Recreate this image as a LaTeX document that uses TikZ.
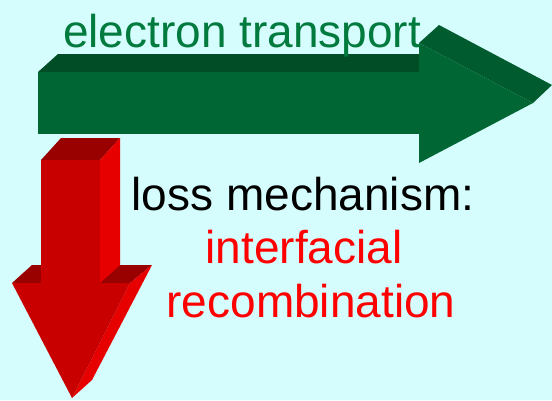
\documentclass[tikz,border=0pt]{standalone}
\usepackage{fontspec}
\setmainfont{Liberation Sans}
\definecolor{bgcyan}{RGB}{214,253,253}
\definecolor{gfront}{RGB}{0,102,51}
\definecolor{gtop}{RGB}{0,77,38}
\definecolor{ghead}{RGB}{0,92,46}
\definecolor{gtext}{RGB}{0,122,61}
\definecolor{rfront}{RGB}{200,0,0}
\definecolor{rtop}{RGB}{153,0,0}
\definecolor{rside}{RGB}{230,0,0}

\begin{document}
\begin{tikzpicture}[x=1pt, y=-1pt,
    lbl/.style={inner sep=0pt, anchor=base, font=\fontsize{46}{54}\selectfont}]
  \fill[bgcyan, use as bounding box] (0, 0) rectangle (552, 400);

  % electron transport (green arrow)
  \begin{scope}
    \fill[gtop]   (38, 72) -- (58, 54) -- (439, 54) -- (419, 72) -- cycle;
    \fill[gfront] (38, 72) rectangle (419, 134);
    % head
    \fill[ghead]  (419, 43) -- (439, 25) -- (552, 85) -- (533, 103) -- cycle;
    \fill[gfront] (419, 43) -- (533, 103) -- (419, 163) -- cycle;
  \end{scope}

  % loss (red arrow)
  \begin{scope}
    % head
    \fill[rtop]   (12, 283) -- (32, 265) -- (152, 265) -- (130, 283) -- cycle;
    \fill[rside]  (130, 283) -- (152, 265) -- (92, 380) -- (72, 398) -- cycle;
    \fill[rfront] (12, 283) -- (130, 283) -- (72, 398) -- cycle;
    % shaft
    \fill[rtop]   (41, 160) -- (61, 138) -- (120, 138) -- (100, 160) -- cycle;
    \fill[rside]  (100, 160) -- (120, 138) -- (120, 265) -- (100, 283) -- cycle;
    \fill[rfront] (41, 160) rectangle (100, 283);
  \end{scope}

  % labels
  \node[lbl, text=gtext] (transport) at (242, 47) {electron transport};
  \node[lbl, text=black] (loss) at (303, 210) {loss mechanism:};
  \node[lbl, text=red] (interf) at (304, 263) {interfacial};
  \node[lbl, text=red] (recomb) at (311, 317) {recombination};

\end{tikzpicture}
\end{document}
